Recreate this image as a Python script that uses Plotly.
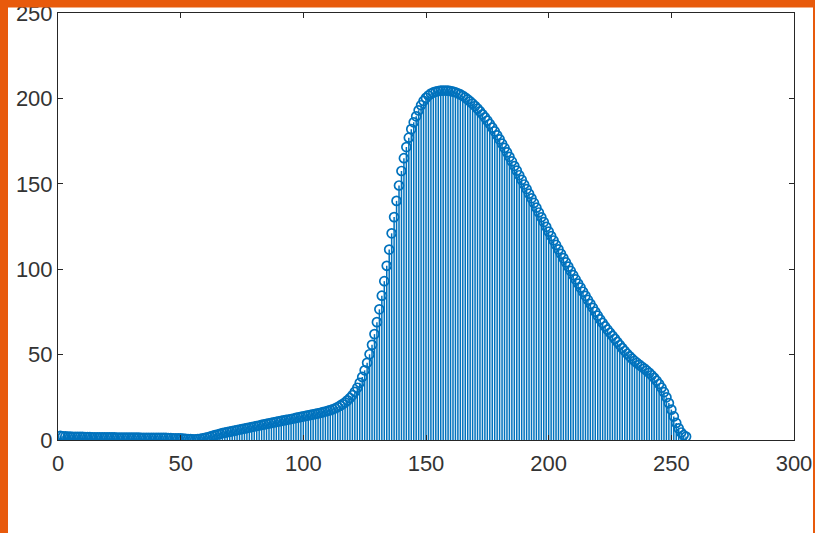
import plotly.graph_objects as go

# Histogram-like counts, bins 1..256
bins = list(range(1, 257))
counts = [
    2.4, 2.2, 2.1, 2.0, 2.0, 1.9, 1.9, 1.8, 1.8, 1.8,
    1.7, 1.7, 1.7, 1.6, 1.6, 1.6, 1.6, 1.5, 1.5, 1.5,
    1.5, 1.5, 1.5, 1.4, 1.4, 1.4, 1.4, 1.4, 1.4, 1.4,
    1.4, 1.4, 1.4, 1.3, 1.3, 1.3, 1.3, 1.3, 1.3, 1.3,
    1.2, 1.2, 1.2, 1.2, 1.1, 1.1, 1.0, 1.0, 0.9, 0.9,
    0.8, 0.7, 0.6, 0.5, 0.4, 0.4, 0.5, 0.7, 1.0, 1.3,
    1.6, 2.0, 2.4, 2.8, 3.2, 3.6, 4.0, 4.3, 4.6, 4.9,
    5.2, 5.5, 5.8, 6.1, 6.4, 6.7, 7.0, 7.3, 7.6, 7.9,
    8.2, 8.5, 8.8, 9.1, 9.4, 9.7, 10.0, 10.3, 10.6, 10.9,
    11.2, 11.5, 11.8, 12.0, 12.3, 12.6, 12.9, 13.2, 13.5, 13.8,
    14.1, 14.4, 14.7, 15.0, 15.3, 15.6, 15.9, 16.3, 16.7, 17.1,
    17.5, 18.0, 18.6, 19.3, 20.1, 21.0, 22.0, 23.2, 24.6, 26.2,
    28.2, 30.6, 33.5, 36.9, 40.8, 45.2, 50.2, 55.7, 62.0, 69.0,
    76.5, 84.5, 93.0, 102.0, 111.5, 121.0, 130.5, 140.0, 149.0, 157.5,
    165.0, 171.5, 177.0, 182.0, 186.0, 189.5, 193.0, 196.0, 198.5, 200.3,
    201.7, 202.8, 203.5, 204.0, 204.3, 204.5, 204.6, 204.6, 204.5, 204.3,
    204.0, 203.6, 203.0, 202.3, 201.5, 200.5, 199.4, 198.2, 196.9, 195.5,
    194.0, 192.4, 190.7, 188.9, 187.0, 185.0, 182.9, 180.7, 178.4, 176.0,
    173.5, 171.0, 168.4, 165.8, 163.1, 160.4, 157.7, 155.0, 152.3, 149.6,
    146.9, 144.2, 141.5, 138.8, 136.0, 133.2, 130.4, 127.6, 124.8, 122.0,
    119.4, 116.8, 114.2, 111.6, 109.0, 106.5, 104.0, 101.5, 99.0, 96.5,
    94.0, 91.6, 89.2, 86.8, 84.4, 82.0, 79.7, 77.4, 75.1, 72.8,
    70.6, 68.5, 66.5, 64.6, 62.8, 61.0, 59.2, 57.4, 55.6, 53.8,
    52.1, 50.5, 49.0, 47.6, 46.3, 45.1, 44.0, 42.9, 41.8, 40.6,
    39.3, 37.9, 36.4, 34.7, 32.8, 30.6, 28.0, 25.0, 21.6, 17.8,
    13.8, 10.0, 6.8, 4.4, 2.8, 2.0,
]
x_ticks = [0, 50, 100, 150, 200, 250, 300]
y_ticks = [0, 50, 100, 150, 200, 250]

STEM = "#0072BD"

# stems built from the data
sx, sy = [], []
for b, c in zip(bins, counts):
    sx += [b, b, None]
    sy += [0, c, None]

fig = go.Figure()
fig.add_trace(go.Scatter(x=sx, y=sy, mode="lines",
                         line=dict(color=STEM, width=1.5),
                         hoverinfo="skip", showlegend=False))
fig.add_trace(go.Scatter(x=bins, y=counts, mode="markers",
                         marker=dict(symbol="circle-open", size=9, color=STEM,
                                     line=dict(width=1.7, color=STEM)),
                         showlegend=False))

axis_common = dict(showgrid=False, zeroline=False, showline=True,
                   linecolor="#262626", linewidth=1, mirror="ticks",
                   ticks="inside", ticklen=5, tickcolor="#262626",
                   automargin=False,
                   tickfont=dict(family="Liberation Sans, Arial, sans-serif",
                                 size=22, color="#333333"))

fig.update_xaxes(range=[0, 300], tickvals=x_ticks, ticklabelstandoff=4,
                 **axis_common)
fig.update_yaxes(range=[0, 250], tickvals=y_ticks, **axis_common)

ORANGE = "#E85A0C"
W, H = 815, 533
L, R, T, B = 58, 21, 13, 93
pw, ph = W - L - R, H - T - B

def px_x(p):
    return (p - L) / pw

def px_y(p):
    return (H - B - p) / ph

shapes = [
    dict(type="rect", xref="paper", yref="paper", x0=px_x(0), x1=px_x(8),
         y0=px_y(H), y1=px_y(0), fillcolor=ORANGE, line=dict(width=0), layer="above"),
    dict(type="rect", xref="paper", yref="paper", x0=px_x(0), x1=px_x(W),
         y0=px_y(7.5), y1=px_y(0), fillcolor=ORANGE, line=dict(width=0), layer="above"),
    dict(type="rect", xref="paper", yref="paper", x0=px_x(813), x1=px_x(W),
         y0=px_y(H), y1=px_y(0), fillcolor=ORANGE, line=dict(width=0), layer="above"),
]

fig.update_layout(width=W, height=H,
                  margin=dict(l=L, r=R, t=T, b=B, autoexpand=False),
                  paper_bgcolor="white", plot_bgcolor="white",
                  shapes=shapes, showlegend=False)

fig.write_html("out.html", config={"displayModeBar": False},
               post_script="document.body.style.margin='0';"
                           "document.body.style.overflow='hidden';")
